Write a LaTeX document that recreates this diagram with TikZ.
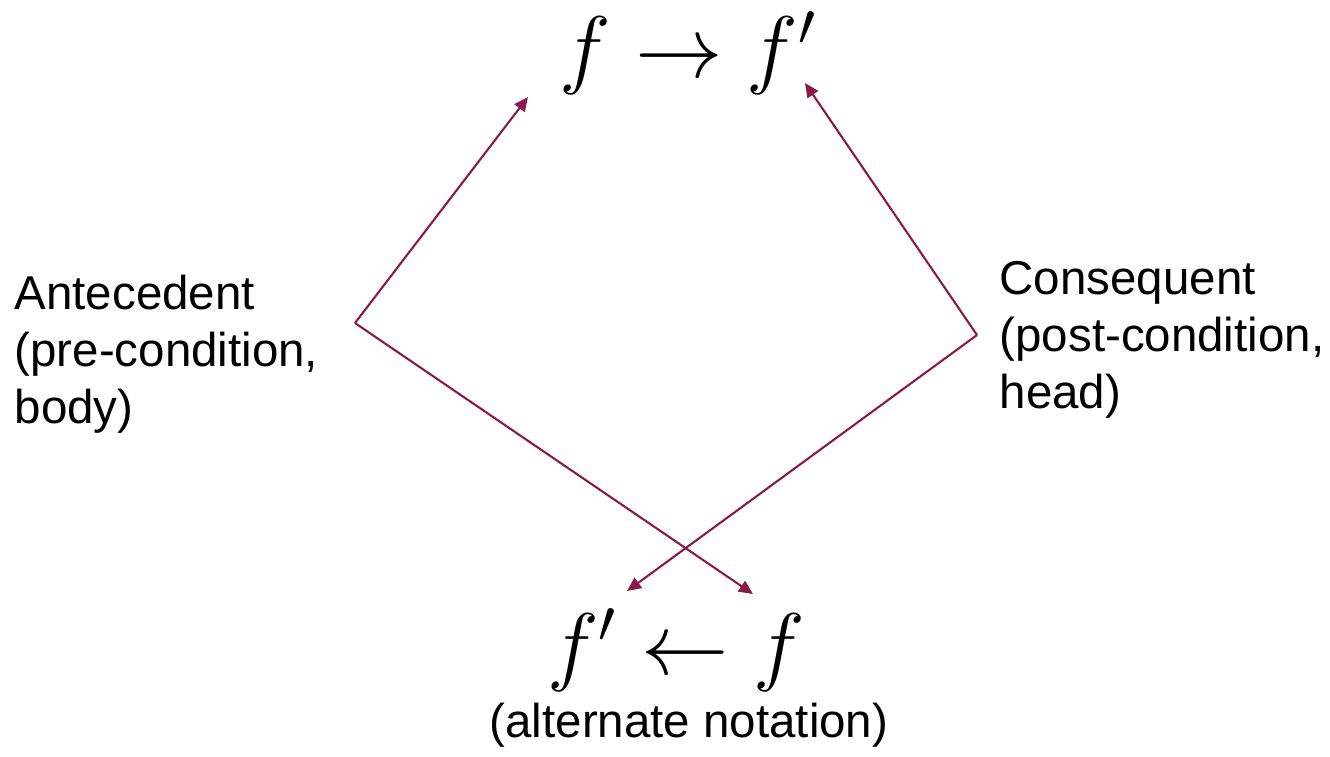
\documentclass[tikz,border=0pt]{standalone}
\usepackage{fontspec}
\setmainfont{Liberation Sans}
\usetikzlibrary{arrows.meta}
\definecolor{wine}{RGB}{140,26,72}
\tikzset{
  rule/.style={draw=wine, line width=0.6pt, -{Triangle[length=4pt,width=3.6pt]}},
  lbl/.style={inner sep=0pt, align=left, font=\fontsize{13.5}{16.2}\selectfont},
  formula/.style={inner sep=0pt, anchor=base, font=\fontsize{24}{28}\selectfont}
}
\begin{document}
\begin{tikzpicture}[x=0.01cm, y=-0.01cm]
\useasboundingbox (0,0) rectangle (1330,756);

% the rule and its reversed notation
\node[formula] (top) at (688,77) {$f \rightarrow f'$};
\node[formula] (bot) at (676,674) {$f' \leftarrow f$};
\node[lbl, anchor=base] (alt) at (689,737) {(alternate notation)};

% the two parts
\node[lbl, anchor=base west] (ante) at (14,423) {Antecedent\\(pre-condition,\\body)};
\node[lbl, anchor=base west] (cons) at (999,408) {Consequent\\(post-condition,\\head)};

% corners and arrow tips
\coordinate (anteC) at (355,323);
\coordinate (consC) at (977,335);
\coordinate (topL) at (528,97);
\coordinate (topR) at (805,83);
\coordinate (botL) at (627,591);
\coordinate (botR) at (753,594);

\draw[rule] (anteC) -- (topL);
\draw[rule] (anteC) -- (botR);
\draw[rule] (consC) -- (topR);
\draw[rule] (consC) -- (botL);
\end{tikzpicture}
\end{document}
